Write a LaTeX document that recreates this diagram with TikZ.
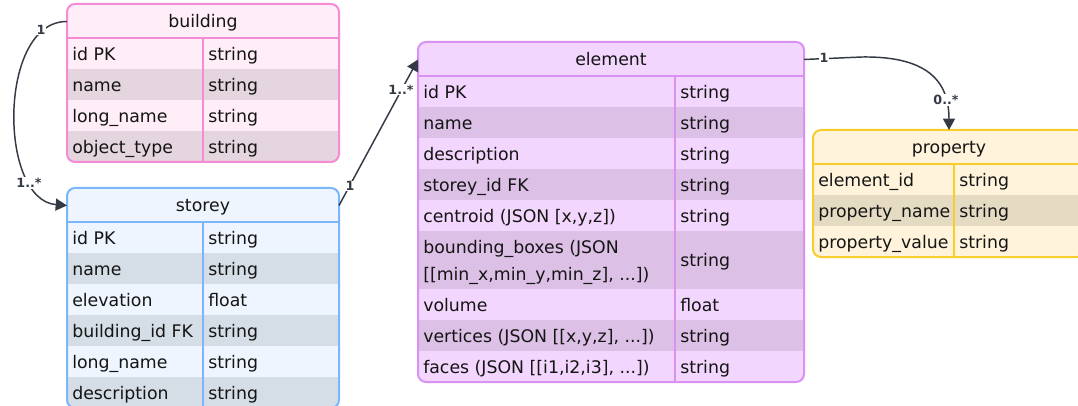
\documentclass[tikz,border=0pt]{standalone}
\usepackage{fontspec}
\setmainfont{DejaVu Sans}
\usetikzlibrary{arrows.meta}
\definecolor{bldfill}{HTML}{FFEEF8}
\definecolor{bldalt}{HTML}{E5D5DF}
\definecolor{bldline}{HTML}{F58BD5}
\definecolor{stfill}{HTML}{EEF5FF}
\definecolor{stalt}{HTML}{D5DDE6}
\definecolor{stline}{HTML}{7AB6F8}
\definecolor{elfill}{HTML}{F3D6FD}
\definecolor{elalt}{HTML}{DCC0E6}
\definecolor{elline}{HTML}{D991F2}
\definecolor{prfill}{HTML}{FFF3DB}
\definecolor{pralt}{HTML}{E5DAC2}
\definecolor{prline}{HTML}{F9CC2E}
\definecolor{txt}{HTML}{151515}
\definecolor{edge}{HTML}{333A44}
\tikzset{
  ent/.style={inner sep=0pt, outer sep=0pt, anchor=north west, rounded corners=6pt},
  hdr/.style={inner sep=0pt, font=\fontsize{13}{20}\selectfont, text=txt, text height=9.5pt, text depth=0pt},
  fld/.style={inner sep=0pt, anchor=west, font=\fontsize{13}{20}\selectfont, text=txt, align=left, text height=9.5pt, text depth=0pt},
  twoline/.style={text height=29.5pt},
  grid/.style={line width=1.1pt},
  frame/.style={line width=1.5pt, rounded corners=6pt},
  conn/.style={draw=edge, line width=1.1pt},
  arr/.style={-{Triangle[length=8.5pt,width=9pt]}},
  card/.style={font=\fontsize{9.5}{11}\selectfont\bfseries, text=edge, fill=white, inner sep=0.6pt},
}
\begin{document}
\begin{tikzpicture}[x=0.75pt,y=-0.75pt]
\useasboundingbox (0,0) rectangle (1078,406);
\clip (0,0) rectangle (1078,406);

% ---------- building ----------
\node[ent, fill=bldfill, minimum width=204pt, minimum height=118.5pt] (building) at (67,4) {};
\begin{scope}
\clip[rounded corners=6pt] (building.north west) rectangle (building.south east);
\fill[bldalt] (67,69) rectangle (339,100);
\fill[bldalt] (67,131) rectangle (339,162);
\end{scope}
\draw[bldline, grid] (67,38) -- (339,38) (203,38) -- (203,162);
\draw[bldline, frame] (building.north west) rectangle (building.south east);
\node[hdr] (building-h) at (203,21.5) {building};
\foreach \f/\t [count=\i] in {id PK/string, name/string, long\_name/string, object\_type/string}{
  \node[fld] (building-f\i) at (72,{23+31*\i}) {\f};
  \node[fld] (building-t\i) at (208,{23+31*\i}) {\t};
}

% ---------- storey ----------
\node[ent, fill=stfill, minimum width=204pt, minimum height=165pt] (storey) at (67,188) {};
\begin{scope}
\clip[rounded corners=6pt] (storey.north west) rectangle (storey.south east);
\fill[stalt] (67,253) rectangle (339,284);
\fill[stalt] (67,315) rectangle (339,346);
\fill[stalt] (67,377) rectangle (339,408);
\end{scope}
\draw[stline, grid] (67,222) -- (339,222) (203,222) -- (203,408);
\draw[stline, frame] (storey.north west) rectangle (storey.south east);
\node[hdr] (storey-h) at (203,205.5) {storey};
\foreach \f/\t [count=\i] in {id PK/string, name/string, elevation/float, building\_id FK/string, long\_name/string, description/string}{
  \node[fld] (storey-f\i) at (72,{207+31*\i}) {\f};
  \node[fld] (storey-t\i) at (208,{207+31*\i}) {\t};
}

% ---------- element ----------
\node[ent, fill=elfill, minimum width=289.5pt, minimum height=255pt] (element) at (418,42) {};
\begin{scope}
\clip[rounded corners=6pt] (element.north west) rectangle (element.south east);
\fill[elalt] (418,107) rectangle (804,138);
\fill[elalt] (418,169) rectangle (804,200);
\fill[elalt] (418,231) rectangle (804,289);
\fill[elalt] (418,320) rectangle (804,351);
\end{scope}
\draw[elline, grid] (418,76) -- (804,76) (675,76) -- (675,382);
\draw[elline, frame] (element.north west) rectangle (element.south east);
\node[hdr] (element-h) at (611,59.5) {element};
\foreach \f/\t/\y [count=\i] in {id PK/string/92, name/string/123, description/string/154, storey\_id FK/string/185, {centroid (JSON [x,y,z])}/string/216, volume/float/305, {vertices (JSON [[x,y,z], ...])}/string/336, {faces (JSON [[i1,i2,i3], ...])}/string/367}{
  \node[fld] (element-f\i) at (423,\y) {\f};
  \node[fld] (element-t\i) at (680,\y) {\t};
}
\node[fld, twoline] (element-bb) at (423,260.5) {bounding\_boxes (JSON\\{}[[min\_x,min\_y,min\_z], ...])};
\node[fld] (element-bbt) at (680,260.5) {string};

% ---------- property ----------
\node[ent, fill=prfill, minimum width=204pt, minimum height=95.25pt] (property) at (813,130) {};
\begin{scope}
\clip[rounded corners=6pt] (property.north west) rectangle (property.south east);
\fill[pralt] (813,195) rectangle (1085,226);
\end{scope}
\draw[prline, grid] (813,164) -- (1085,164) (954,164) -- (954,257);
\draw[prline, frame] (property.north west) rectangle (property.south east);
\node[hdr] (property-h) at (949,147.5) {property};
\foreach \f/\t [count=\i] in {element\_id/string, property\_name/string, property\_value/string}{
  \node[fld] (property-f\i) at (818,{149+31*\i}) {\f};
  \node[fld] (property-t\i) at (959,{149+31*\i}) {\t};
}

% ---------- connectors ----------
\draw[conn, arr] (building.west |- building-h) .. controls (-2,21) and (-2,200) .. (storey.west |- storey-h);
\node[card] (c1a) at (41,30) {1};
\node[card] (c1b) at (29,183) {1..*};

\draw[conn, arr] (storey.east |- storey-h) -- (element.west |- element-h);
\node[card] (c2a) at (350,186) {1};
\node[card] (c2b) at (401,90) {1..*};

\coordinate (e3) at (862,57);
\draw[conn, arr] (element.east |- element-h) -- (e3) .. controls (932,56) and (949,85) .. (property.north);
\node[card] (c3a) at (824,58) {1};
\node[card] (c3b) at (946,100) {0..*};
\end{tikzpicture}
\end{document}
